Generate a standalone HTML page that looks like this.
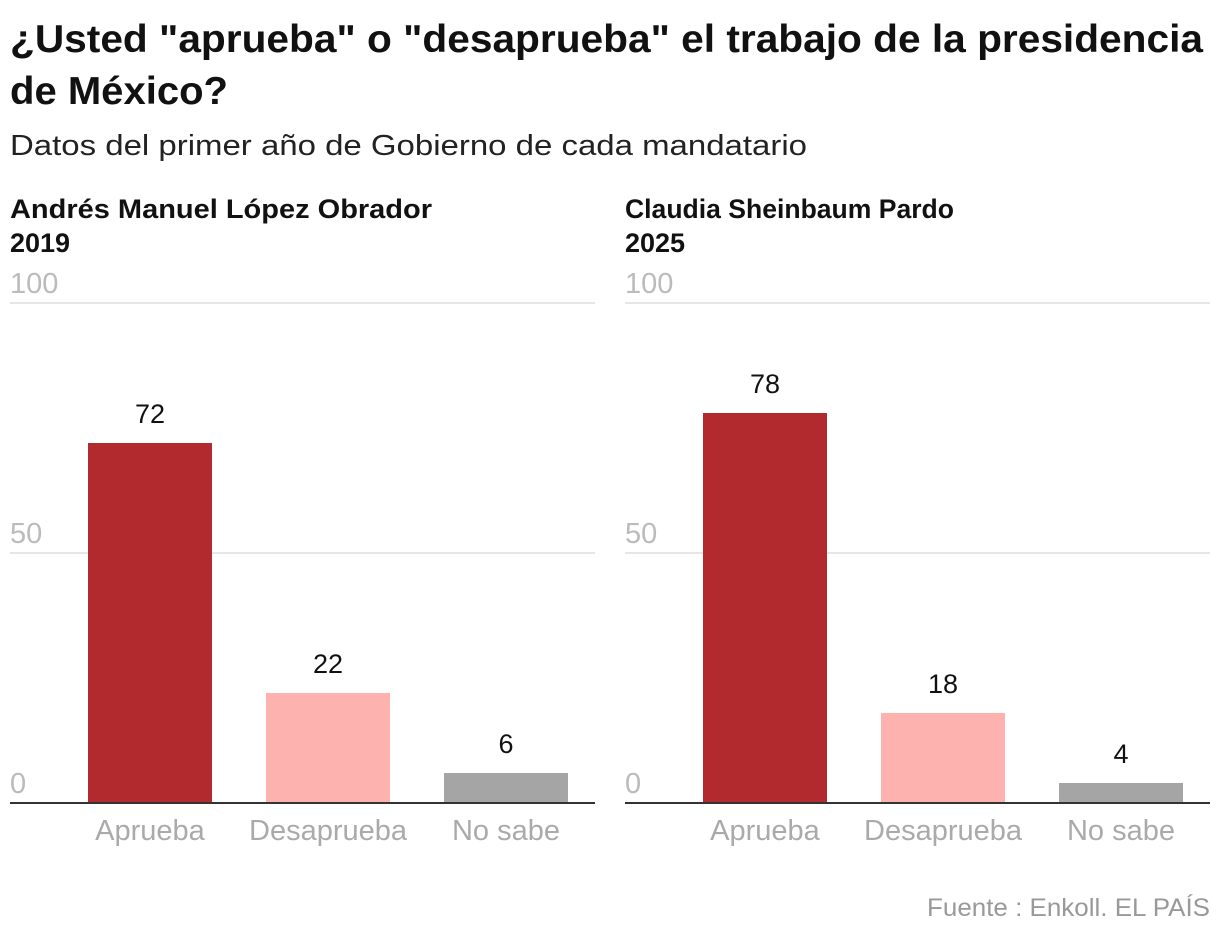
<!DOCTYPE html>
<html><head><meta charset="utf-8"><style>
body{margin:0;background:#fff;width:1220px;height:936px;overflow:hidden;font-family:"Liberation Sans",sans-serif}
svg{position:absolute;left:0;top:0}
</style></head><body>
<svg id="chart" width="1220" height="936" xmlns="http://www.w3.org/2000/svg">
<text x="10" y="52" font-size="39" font-weight="bold" fill="#111" textLength="1193" lengthAdjust="spacingAndGlyphs">¿Usted "aprueba" o "desaprueba" el trabajo de la presidencia</text>
<text x="10" y="104" font-size="39" font-weight="bold" fill="#111" textLength="218" lengthAdjust="spacingAndGlyphs">de México?</text>
<text x="10" y="155" font-size="29" fill="#222" textLength="797" lengthAdjust="spacingAndGlyphs">Datos del primer año de Gobierno de cada mandatario</text>
<text x="1210" y="916" font-size="25" fill="#999" text-anchor="end" textLength="283" lengthAdjust="spacingAndGlyphs">Fuente : Enkoll. EL PAÍS</text>
</svg>
<script>
const categories=["Aprueba","Desaprueba","No sabe"];
const panelTitles=["Andrés Manuel López Obrador","Claudia Sheinbaum Pardo"];
const panelYears=["2019","2025"];
const amloValues=[72,22,6];
const csValues=[78,18,4];
const yTicks=[0,50,100];
const colors=["#b22a2e","#fdb2b0","#a5a5a5"];
const svg=document.getElementById('chart');
const NS="http://www.w3.org/2000/svg";
function mk(tag,attrs,text){const e=document.createElementNS(NS,tag);for(const k in attrs)e.setAttribute(k,attrs[k]);if(text!==undefined)e.textContent=text;svg.appendChild(e);return e;}
const y=v=>803-v*5;
function panel(x0,title,year,values,tlen){
  const t1=mk('text',{x:x0,y:218,'font-size':27,'font-weight':'bold',fill:'#111',textLength:tlen,lengthAdjust:'spacingAndGlyphs'},title);
  
  const t2=mk('text',{x:x0,y:252,'font-size':27,'font-weight':'bold',fill:'#111'},year);
  
  yTicks.forEach(v=>{
    if(v>0){const g=mk('line',{x1:x0,x2:x0+585,y1:y(v),y2:y(v),stroke:'#ddd','stroke-width':1.5});
    }
    const l=mk('text',{x:x0,y:y(v)-10,'font-size':29,fill:'#bbb'},String(v));
    
  });
  const xs=i=>x0+78+i*178;
  values.forEach((v,i)=>{
    const b=mk('rect',{x:xs(i),y:y(v),width:124,height:v*5,fill:colors[i]});
    
    
    const vl=mk('text',{x:xs(i)+62,y:y(v)-20,'font-size':27,fill:'#111','text-anchor':'middle'},String(v));
    
    const cl=mk('text',{x:xs(i)+62,y:840,'font-size':29,fill:'#aaa','text-anchor':'middle'},categories[i]);
    
  });
  const ax=mk('line',{x1:x0,x2:x0+585,y1:803,y2:803,stroke:'#333','stroke-width':2});
  
}
panel(10,panelTitles[0],panelYears[0],amloValues,422);
panel(625,panelTitles[1],panelYears[1],csValues,329);
</script>
</body></html>
